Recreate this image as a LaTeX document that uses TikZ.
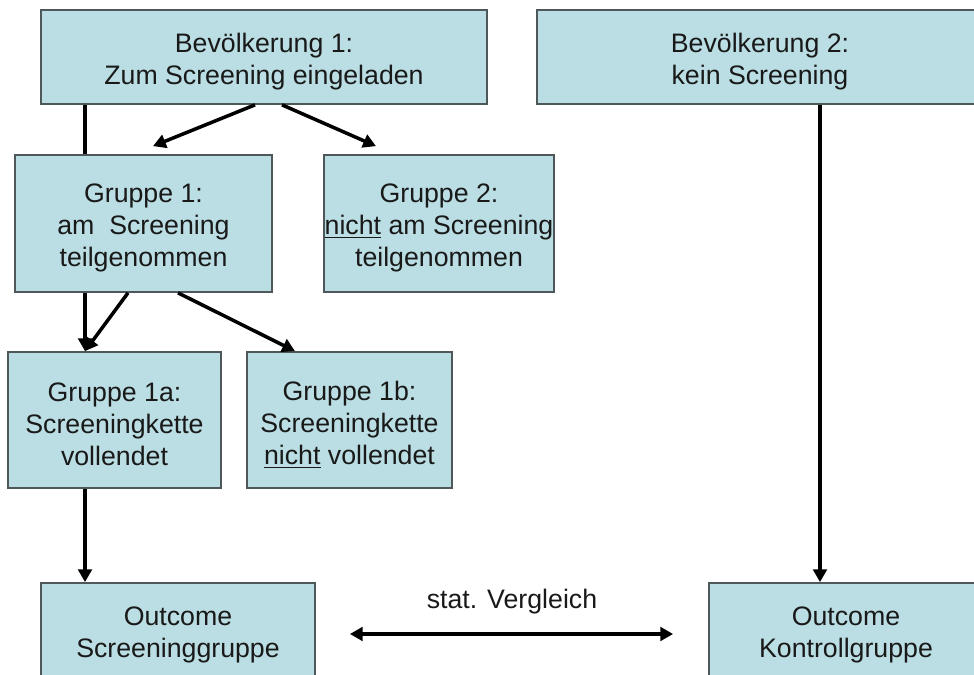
\documentclass[tikz,border=0pt]{standalone}
\usepackage{fontspec}
\setmainfont{Liberation Sans}
\usetikzlibrary{arrows.meta,calc}

\definecolor{kastenfill}{RGB}{186,222,227}
\definecolor{kastenrand}{RGB}{78,88,90}
\definecolor{schrift}{RGB}{25,25,25}

\newcommand{\oben}{\rule{0pt}{20pt}}

\tikzset{
  kasten/.style={draw=kastenrand,fill=kastenfill,line width=1.2pt,inner sep=0pt,
    align=center,text=schrift,font=\fontsize{19pt}{22.8pt}\selectfont},
  pfeil/.style={line width=2.5pt,-{Triangle[length=0.32cm,width=0.34cm]}},
  linie/.style={line width=2.5pt},
  doppelpfeil/.style={line width=2.5pt,{Triangle[length=0.32cm,width=0.34cm]}-{Triangle[length=0.32cm,width=0.34cm]}}
}

\begin{document}
\begin{tikzpicture}[x=0.025cm,y=-0.025cm]
  \useasboundingbox (0,0) rectangle (974,675);
  \clip (0,0) rectangle (974,675);

  % obere Reihe
  \node[kasten,minimum width=11.15cm,minimum height=2.35cm] (B1) at (264,57)
    {\oben Bevölkerung 1:\\Zum Screening eingeladen};
  \node[kasten,minimum width=11.15cm,minimum height=2.35cm] (B2) at (760,57)
    {\oben Bevölkerung 2:\\kein Screening};

  % Gruppen
  \node[kasten,minimum width=6.425cm,minimum height=3.425cm] (G1) at (143.5,223.5)
    {\oben Gruppe 1:\\am\ \ Screening\\teilgenommen};
  \node[kasten,minimum width=5.75cm,minimum height=3.425cm] (G2) at (439,223.5)
    {\oben Gruppe 2:\\\underline{nicht} am Screening\\teilgenommen};
  \node[kasten,minimum width=5.325cm,minimum height=3.4cm] (G1a) at (114.5,420)
    {\oben Gruppe 1a:\\Screeningkette\\vollendet};
  \node[kasten,minimum width=5.125cm,minimum height=3.4cm] (G1b) at (349.5,420)
    {\oben Gruppe 1b:\\Screeningkette\\\underline{nicht} vollendet};

  % Outcome
  \node[kasten,minimum width=6.85cm,minimum height=2.35cm] (O1) at (178,630)
    {\oben Outcome\\Screeninggruppe};
  \node[kasten,minimum width=6.85cm,minimum height=2.35cm] (O2) at (846,630)
    {\oben Outcome\\Kontrollgruppe};

  % Verbindungen
  \draw[linie] ($(B1.south)+(-179,0)$) -- ($(G1.north)+(-58.5,0)$);
  \draw[pfeil] ($(B1.south)+(-9,0)$) -- ($(G1.north)+(9.5,-8)$);
  \draw[pfeil] ($(B1.south)+(18,0)$) -- ($(G2.north)+(-63,-8)$);
  \draw[pfeil] ($(G1.south)+(-58.5,0)$) -- ($(G1a.north)+(-29.5,0)$);
  \draw[pfeil] ($(G1.south)+(-15.5,0)$) -- ($(G1a.north)+(-29.5,0)$);
  \draw[pfeil] ($(G1.south)+(34.5,0)$) -- ($(G1b.north)+(-54.5,0)$);
  \draw[pfeil] ($(G1a.south)+(-29.5,0)$) -- ($(O1.north)+(-93,0)$);
  \draw[pfeil] ($(B2.south)+(60,0)$) -- ($(O2.north)+(-26,0)$);

  \draw[doppelpfeil] ($(O1.east)+(34,4)$) -- ($(O2.west)+(-35,4)$);
  \node[text=schrift,font=\fontsize{19pt}{22.8pt}\selectfont] (vgl) at (512,602) {stat. Vergleich};
\end{tikzpicture}
\end{document}
